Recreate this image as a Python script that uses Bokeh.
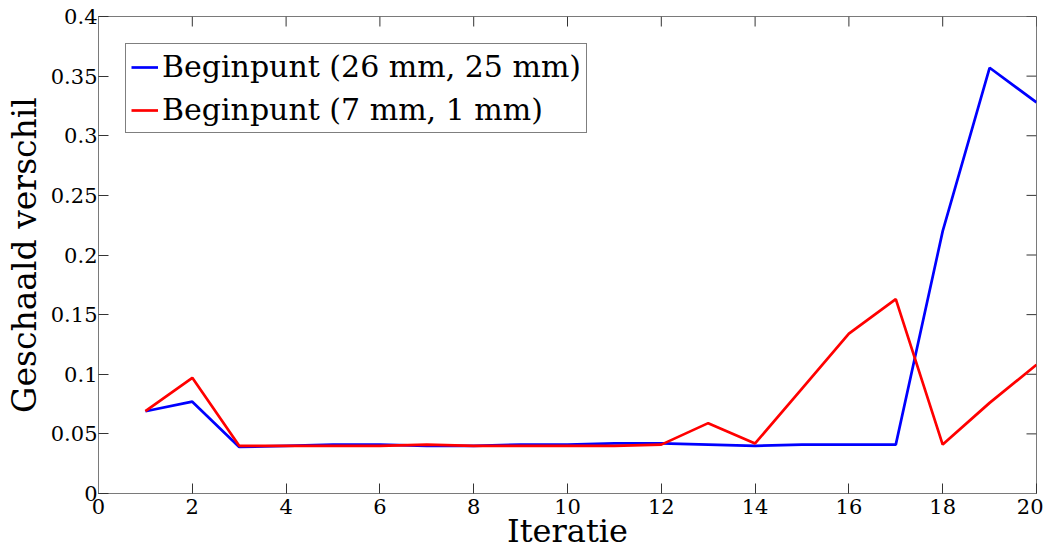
from bokeh.plotting import figure
from bokeh.models import Range1d, FixedTicker, CustomJSTickFormatter
from bokeh.embed import file_html
from bokeh.resources import INLINE

iterations = list(range(1, 21))
blue_label = "Beginpunt (26 mm, 25 mm)"
red_label = "Beginpunt (7 mm, 1 mm)"
blue_values = [0.069, 0.077, 0.039, 0.040, 0.041, 0.041, 0.040, 0.040, 0.041, 0.041,
               0.042, 0.042, 0.041, 0.040, 0.041, 0.041, 0.041, 0.220, 0.357, 0.328]
red_values = [0.069, 0.097, 0.040, 0.040, 0.040, 0.040, 0.041, 0.040, 0.040, 0.040,
              0.040, 0.041, 0.059, 0.042, 0.088, 0.134, 0.163, 0.041, 0.076, 0.108]
x_ticks = [0, 2, 4, 6, 8, 10, 12, 14, 16, 18, 20]
y_ticks = [0, 0.05, 0.1, 0.15, 0.2, 0.25, 0.3, 0.35, 0.4]
x_title = "Iteratie"
y_title = "Geschaald verschil"

FONT = "DejaVu Serif"
AXIS_COLOR = "#7a7a7a"
TICK_COLOR = "#333333"
X0, X1 = 0, 20
Y0, Y1 = 0, 0.4
FRAME_W, FRAME_H = 938, 477
TICK_PX = 10

p = figure(width=1043, height=552, x_range=Range1d(X0, X1), y_range=Range1d(Y0, Y1),
           output_backend="svg", toolbar_location=None,
           min_border_left=98, min_border_right=7, min_border_top=16, min_border_bottom=59)
p.grid.visible = False
p.outline_line_color = AXIS_COLOR
p.background_fill_color = "white"
p.border_fill_color = "white"

# mirrored inward ticks on the top and right edges (box-style axes)
dx = (X1 - X0) * TICK_PX / FRAME_W
dy = (Y1 - Y0) * TICK_PX / FRAME_H
p.segment(x0=x_ticks, y0=[Y1] * len(x_ticks), x1=x_ticks, y1=[Y1 - dy] * len(x_ticks),
          line_color=TICK_COLOR, line_width=1)
p.segment(x0=[X1] * len(y_ticks), y0=y_ticks, x1=[X1 - dx] * len(y_ticks), y1=y_ticks,
          line_color=TICK_COLOR, line_width=1)

p.line(iterations, blue_values, line_color="#0000ff", line_width=2.7, legend_label=blue_label)
p.line(iterations, red_values, line_color="#ff0000", line_width=2.7, legend_label=red_label)

yfmt = CustomJSTickFormatter(code="return tick.toFixed(2).replace(/0+$/,'').replace(/\\.$/,'');")

for ax, ticks in ((p.xaxis[0], x_ticks), (p.yaxis[0], y_ticks)):
    ax.ticker = FixedTicker(ticks=ticks)
    ax.major_tick_in = TICK_PX
    ax.major_tick_out = 0
    ax.minor_tick_line_color = None
    ax.axis_line_color = AXIS_COLOR
    ax.major_tick_line_color = TICK_COLOR
    ax.major_label_text_font = FONT
    ax.major_label_text_color = "black"
    ax.major_label_text_font_size = "21px"
    ax.axis_label_text_font = FONT
    ax.axis_label_text_font_style = "normal"
    ax.axis_label_text_color = "black"

xa = p.xaxis[0]
ya = p.yaxis[0]
ya.formatter = yfmt
xa.major_label_standoff = 5
ya.major_label_standoff = 1

xa.axis_label = x_title
xa.axis_label_text_font_size = "32px"
xa.axis_label_standoff = -5

ya.axis_label = y_title
ya.axis_label_text_font_size = "33px"
ya.axis_label_standoff = 4

leg = p.legend[0]
leg.location = "top_left"
leg.margin = 27
leg.padding = 5
leg.spacing = 8
leg.glyph_width = 27
leg.label_standoff = 4
leg.label_text_font = FONT
leg.label_text_font_size = "30px"
leg.label_text_color = "black"
leg.border_line_color = "black"
leg.border_line_width = 1
leg.background_fill_alpha = 1

open("out.html", "w").write(file_html(p, INLINE))
